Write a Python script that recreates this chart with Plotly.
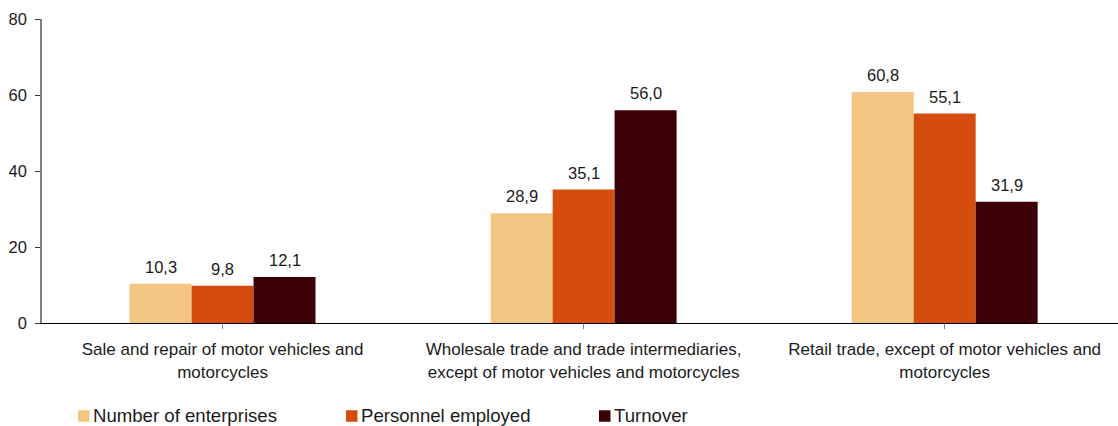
import plotly.graph_objects as go

# Sector categories (two-line axis labels)
categories = [
    "Sale and repair of motor vehicles and<br>motorcycles",
    "Wholesale trade and trade intermediaries,<br>except of motor vehicles and motorcycles",
    "Retail trade, except of motor vehicles and<br>motorcycles",
]

# Share (%) per indicator
enterprises = [10.3, 28.9, 60.8]
personnel = [9.8, 35.1, 55.1]
turnover = [12.1, 56.0, 31.9]

series_names = ["Number of enterprises", "Personnel employed", "Turnover"]
series_values = [enterprises, personnel, turnover]
series_colors = ["#F3C582", "#D54C0F", "#3C0007"]

y_ticks = [0, 20, 40, 60, 80]

FONT = "Liberation Sans, Arial, sans-serif"
TXT = "#1a1a1a"
BARGAP = 0.485

W, H = 1118, 426
ML, MR, MT, MB = 42, 0, 19, 103
PW, PH = W - ML - MR, H - MT - MB

fig = go.Figure()
x_idx = list(range(len(categories)))
for name, vals, col in zip(series_names, series_values, series_colors):
    fig.add_trace(go.Bar(
        x=x_idx, y=vals, name=name,
        marker=dict(color=col, line=dict(width=0)),
        showlegend=False,
    ))

# Value labels above each bar
n = len(series_values)
bw = (1 - BARGAP) / n
annotations = []
for k, vals in enumerate(series_values):
    off = (k - (n - 1) / 2) * bw
    for i, v in enumerate(vals):
        annotations.append(dict(
            x=i + off, y=v, xref="x", yref="y",
            text=f"{v:.1f}".replace(".", ","),
            showarrow=False, yanchor="bottom", yshift=6,
            font=dict(family=FONT, size=16.5, color=TXT),
        ))

# Legend row below the axis: square swatch followed by its label
def px_x(px):
    return (px - ML) / PW

def px_y(py):
    return (H - MB - py) / PH

legend_swatch_left = [78, 346, 599]
legend_row_center = 416
swatch = 11.5
shapes = []
for name, col, left in zip(series_names, series_colors, legend_swatch_left):
    shapes.append(dict(
        type="rect", xref="paper", yref="paper",
        x0=px_x(left), x1=px_x(left + swatch),
        y0=px_y(legend_row_center + swatch / 2), y1=px_y(legend_row_center - swatch / 2),
        fillcolor=col, line=dict(width=0),
    ))
    annotations.append(dict(
        x=px_x(left + swatch + 2.5), y=px_y(legend_row_center - 0.5),
        xref="paper", yref="paper", xanchor="left", yanchor="middle",
        text=name, showarrow=False, borderpad=0,
        font=dict(family=FONT, size=18.6, color=TXT),
    ))

fig.update_layout(
    width=W, height=H,
    margin=dict(l=ML, r=MR, t=MT, b=MB, autoexpand=False),
    paper_bgcolor="white", plot_bgcolor="white",
    barmode="group", bargap=BARGAP, bargroupgap=0,
    font=dict(family=FONT, size=16.5, color=TXT),
    annotations=annotations,
    shapes=shapes,
    showlegend=False,
    xaxis=dict(
        range=[-0.5, 2.48],
        tickmode="array", tickvals=x_idx, ticktext=categories,
        tickson="boundaries", ticks="outside", ticklen=5,
        tickcolor="#808080", showline=True, linecolor="#000000", linewidth=1,
        showgrid=False, zeroline=False, ticklabelstandoff=6,
        tickfont=dict(family=FONT, size=17, color=TXT),
    ),
    yaxis=dict(
        range=[0, 80], tickvals=y_ticks,
        ticks="outside", ticklen=5, tickcolor="#333333",
        showline=True, linecolor="#808080", linewidth=1.5,
        showgrid=False, zeroline=False, ticklabelstandoff=5,
        tickfont=dict(family=FONT, size=16.5, color=TXT),
    ),
)

fig.write_html("out.html")
